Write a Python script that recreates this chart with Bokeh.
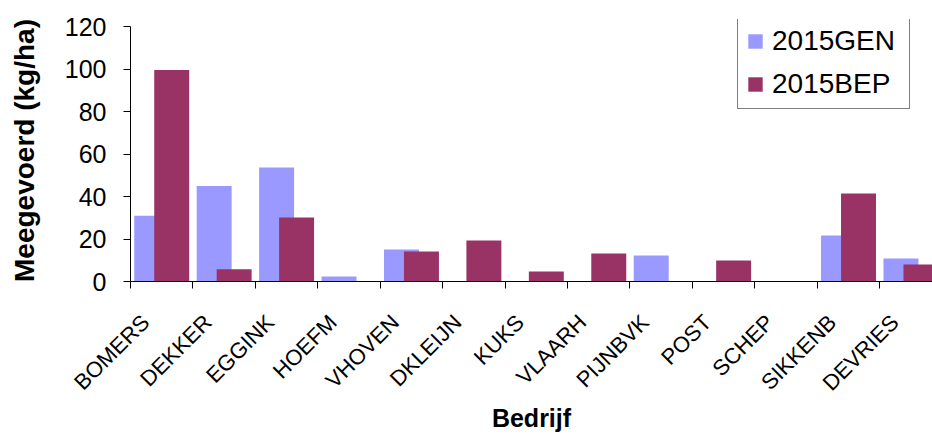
from bokeh.plotting import figure
from bokeh.models import ColumnDataSource, Range1d, FixedTicker, Legend, LegendItem
from bokeh.transform import dodge
from bokeh.embed import file_html
from bokeh.resources import INLINE
import math

categories = ["BOMERS", "DEKKER", "EGGINK", "HOEFM", "VHOVEN", "DKLEIJN", "KUKS",
              "VLAARH", "PIJNBVK", "POST", "SCHEP", "SIKKENB", "DEVRIES"]
gen_2015 = [31, 45, 53.6, 2.4, 15.1, 0, 0, 0, 12.2, 0, 0, 21.6, 10.8]
bep_2015 = [99.5, 5.8, 30.1, 0, 14.1, 19.3, 4.7, 13.2, 0, 9.9, 0, 41.4, 8.0]
y_ticks = [0, 20, 40, 60, 80, 100, 120]
x_title = "Bedrijf"
y_title = "Meegevoerd (kg/ha)"

FONT = "Liberation Sans"
# label anchor sits slightly left of each category centre (as in the original)
SHIFT = 0.26
idx = list(range(len(categories)))
source = ColumnDataSource(dict(x=idx, gen=gen_2015, bep=bep_2015, cat=categories))

W, H = 932, 438
p = figure(width=W, height=H, output_backend="svg", toolbar_location=None,
           x_range=Range1d(SHIFT - 0.5, SHIFT - 0.5 + 12.845),
           y_range=Range1d(0, 120 * 262 / 255),
           min_border_left=130, min_border_right=0, min_border_top=19,
           min_border_bottom=157)
p.outline_line_color = None
p.xgrid.visible = False
p.ygrid.visible = False
p.background_fill_color = "white"
p.border_fill_color = "white"

r_gen = p.vbar(x=dodge("x", SHIFT - 0.16, range=p.x_range), top="gen", width=0.56,
               source=source, fill_color="#9999FF", line_color=None)
r_bep = p.vbar(x=dodge("x", SHIFT + 0.16, range=p.x_range), top="bep", width=0.56,
               source=source, fill_color="#993366", line_color=None)

# x axis
xa = p.xaxis[0]
xa.ticker = FixedTicker(ticks=idx,
                        minor_ticks=[i + SHIFT - 0.5 for i in idx] + [idx[-1] + SHIFT + 0.5])
xa.major_label_overrides = {i: c for i, c in zip(idx, categories)}
xa.major_tick_out = 0
xa.major_tick_in = 0
xa.minor_tick_out = 7
xa.minor_tick_in = 0
xa.major_label_orientation = math.pi / 4
xa.major_label_standoff = 30
xa.major_label_text_font = FONT
xa.major_label_text_font_size = "22px"
xa.major_label_text_color = "black"
xa.axis_line_color = "black"
xa.minor_tick_line_color = "black"
xa.axis_label = x_title
xa.axis_label_text_font = FONT
xa.axis_label_text_font_style = "bold"
xa.axis_label_text_font_size = "25px"
xa.axis_label_text_color = "black"
xa.axis_label_standoff = -3

ya = p.yaxis[0]
ya.ticker = FixedTicker(ticks=y_ticks)
ya.bounds = (0, 120)
ya.major_tick_out = 7
ya.major_tick_in = 0
ya.minor_tick_out = 0
ya.minor_tick_in = 0
ya.major_label_standoff = 17
ya.major_label_text_font = FONT
ya.major_label_text_font_size = "25px"
ya.major_label_text_color = "black"
ya.axis_line_color = "black"
ya.major_tick_line_color = "black"
ya.axis_label = y_title
ya.axis_label_text_font = FONT
ya.axis_label_text_font_style = "bold"
ya.axis_label_text_font_size = "28px"
ya.axis_label_text_color = "black"
ya.axis_label_standoff = 22

legend = Legend(items=[LegendItem(label="2015GEN", renderers=[r_gen]),
                       LegendItem(label="2015BEP", renderers=[r_bep])],
                location=(607, 172),
                label_text_font=FONT, label_text_font_size="28px",
                label_text_color="black",
                glyph_width=18, glyph_height=18, label_height=32, label_width=129,
                label_standoff=8, spacing=11, padding=8, margin=0,
                border_line_color="black", border_line_width=1,
                background_fill_color="white", background_fill_alpha=1)
p.add_layout(legend)

open("out.html", "w").write(file_html(p, INLINE))
